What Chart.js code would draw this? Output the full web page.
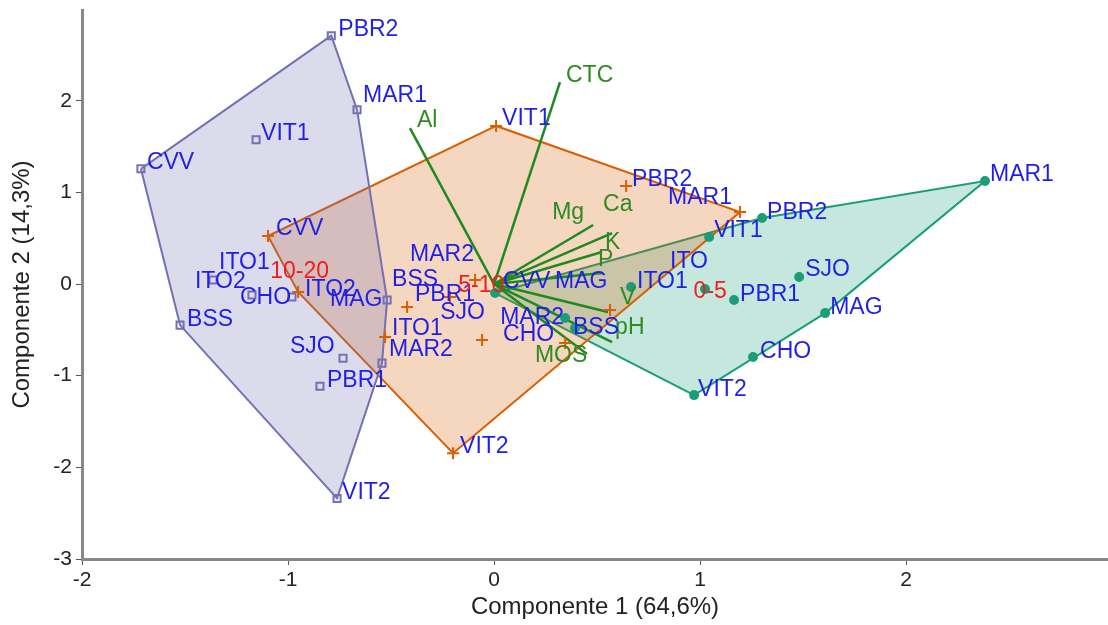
<!DOCTYPE html>
<html>
<head>
<meta charset="utf-8">
<script src="https://cdn.jsdelivr.net/npm/chart.js@4.4.1/dist/chart.umd.min.js"></script>
<style>
  html, body { margin: 0; background: #fff; }
</style>
</head>
<body>
<canvas id="pca" width="1108" height="625"></canvas>
<script>
// PCA scores, depth 10-20 cm
const sites20 = ['PBR2', 'MAR1', 'VIT1', 'CVV', 'ITO1', 'ITO2', 'CHO', 'BSS', 'MAG', 'SJO', 'PBR1', 'MAR2', 'VIT2'];
const pc1_20 = [-0.79, -0.665, -1.155, -1.714, -1.364, -1.175, -0.981, -1.524, -0.519, -0.733, -0.845, -0.544, -0.762];
const pc2_20 = [2.71, 1.902, 1.574, 1.257, 0.044, -0.12, -0.142, -0.448, -0.175, -0.809, -1.115, -0.863, -2.339];

// depth 5-10 cm
const sites10 = ['VIT1', 'PBR2', 'MAR1', 'CVV', 'ITO2', 'BSS', 'PBR1', 'ITO1', 'MAR2', 'CHO', 'SJO', 'MAG', 'VIT2'];
const pc1_10 = [0.01, 0.641, 1.194, -1.097, -0.951, -0.422, -0.214, -0.529, -0.092, -0.058, 0.345, 0.563, -0.199];
const pc2_10 = [1.725, 1.07, 0.786, 0.524, -0.087, -0.251, -0.142, -0.579, 0.044, -0.611, -0.644, -0.284, -1.845];

// depth 0-5 cm
const sites5 = ['MAR1', 'PBR2', 'VIT1', 'ITO', 'ITO1', 'SJO', 'PBR1', 'MAG', 'CHO', 'VIT2', 'CVV', 'MAR2', 'BSS'];
const pc1_5 = [2.383, 1.301, 1.044, 1.024, 0.665, 1.481, 1.165, 1.607, 1.257, 0.971, 0.005, 0.345, 0.393];
const pc2_5 = [1.124, 0.721, 0.513, -0.055, -0.033, 0.076, -0.175, -0.317, -0.797, -1.212, -0.098, -0.371, -0.48];

// loadings (soil variables)
const varNames = ['CTC', 'Al', 'Mg', 'Ca', 'K', 'P', 'V', 'pH', 'MOS'];
const varPc1 = [0.32, -0.408, 0.481, 0.573, 0.524, 0.524, 0.553, 0.573, 0.451];
const varPc2 = [2.204, 1.702, 0.644, 0.556, 0.349, 0.12, -0.305, -0.633, -0.764];

// label nudges in pixels (left edge of text, vertical centre), relative to the point
const nudge20 = [[7, -6], [6, -14], [5, -6], [6, -6], [6, -17], [-57, -13], [-52, 1], [7, -5], [-57, 0], [-53, -12], [7, -6], [7, -13], [5, -6]];
const nudge10 = [[6, -7], [6, -6], [-72, -14], [8, -7], [7, -2], [-15, -27], [-35, -2], [7, -8], [-65, -25], [21, -5], [-125, -30], [-55, -28], [7, -6]];
const nudge5 = [[5, -6], [5, -5], [5, -6], [-35, -27], [6, -5], [6, -7], [6, -5], [5, -5], [7, -5], [4, -5], [8, -11], [-65, 0], [-2, 0]];
const varNudge = [[6, -6], [7, -7], [-41, -12], [-9, -28], [3, -9], [-4, -13], [12, -14], [3, -14], [-52, 2]];

const FONT = '"Liberation Sans", Arial, sans-serif';
Chart.defaults.font.family = FONT;

const groups = [
    { name: '10-20', sites: sites20, x: pc1_20, y: pc2_20, nudge: nudge20, line: '#7570b3', area: 'rgba(117,112,179,0.25)', marker: 'rect', shift: [8, -2] },
    { name: '5-10', sites: sites10, x: pc1_10, y: pc2_10, nudge: nudge10, line: '#d95f02', area: 'rgba(217,95,2,0.25)', marker: 'cross', shift: [0, 0] },
    { name: '0-5', sites: sites5, x: pc1_5, y: pc2_5, nudge: nudge5, line: '#1b9e77', area: 'rgba(27,158,119,0.25)', marker: 'circle', shift: [0, 0] }
];

// convex hull (monotone chain)
function hull(points) {
    const p = points.slice().sort((a, b) => a.x - b.x || a.y - b.y);
    const cross = (o, a, b) => (a.x - o.x) * (b.y - o.y) - (a.y - o.y) * (b.x - o.x);
    const lower = [];
    for (const pt of p) {
        while (lower.length >= 2 && cross(lower[lower.length - 2], lower[lower.length - 1], pt) <= 0) lower.pop();
        lower.push(pt);
    }
    const upper = [];
    for (let i = p.length - 1; i >= 0; i--) {
        const pt = p[i];
        while (upper.length >= 2 && cross(upper[upper.length - 2], upper[upper.length - 1], pt) <= 0) upper.pop();
        upper.push(pt);
    }
    upper.pop();
    lower.pop();
    const h = lower.concat(upper);
    h.push(h[0]);
    return h;
}

const datasets = [];

groups.forEach(g => {
    const pts = g.x.map((v, i) => ({ x: v, y: g.y[i] }));
    datasets.push({
        data: hull(pts),
        showLine: true,
        fill: 'shape',
        backgroundColor: g.area,
        borderColor: g.line,
        borderWidth: 2,
        pointRadius: 0,
        tension: 0,
        order: 3
    });
    datasets.push({
        data: pts,
        showLine: false,
        pointStyle: g.marker,
        pointRadius: g.marker === 'circle' ? 4 : (g.marker === 'cross' ? 6 : 5),
        pointBorderWidth: 2,
        pointBorderColor: g.line,
        pointBackgroundColor: g.marker === 'circle' ? g.line : 'rgba(0,0,0,0)',
        order: 1
    });
});

varNames.forEach((v, i) => {
    datasets.push({
        data: [{ x: 0, y: 0 }, { x: varPc1[i], y: varPc2[i] }],
        showLine: true,
        borderColor: '#1f8a1f',
        borderWidth: 2.5,
        pointRadius: 0,
        order: 2
    });
});

// text labels for sites, variables and group centroids
const labelPlugin = {
    id: 'pcaLabels',
    afterDatasetsDraw(chart) {
        const { ctx } = chart;
        const sx = chart.scales.x, sy = chart.scales.y;
        ctx.save();
        ctx.font = '23px ' + FONT;
        ctx.textBaseline = 'middle';
        ctx.textAlign = 'left';

        ctx.fillStyle = '#2e8b22';
        varNames.forEach((v, i) => {
            const px = sx.getPixelForValue(varPc1[i]);
            const py = sy.getPixelForValue(varPc2[i]);
            ctx.fillText(v, px + varNudge[i][0], py + varNudge[i][1]);
        });

        ctx.fillStyle = '#1f1fe8';
        groups.forEach(g => {
            g.sites.forEach((s, i) => {
                const px = sx.getPixelForValue(g.x[i]);
                const py = sy.getPixelForValue(g.y[i]);
                ctx.fillText(s, px + g.nudge[i][0], py + g.nudge[i][1]);
            });
        });

        ctx.fillStyle = '#f01e1e';
        ctx.textAlign = 'center';
        groups.forEach(g => {
            const mx = g.x.reduce((a, b) => a + b, 0) / g.x.length;
            const my = g.y.reduce((a, b) => a + b, 0) / g.y.length;
            ctx.fillText(g.name, sx.getPixelForValue(mx) + g.shift[0], sy.getPixelForValue(my) + g.shift[1]);
        });
        ctx.restore();
    }
};

function noEdgePadding(scale) {
    scale.paddingTop = 0;
    scale.paddingBottom = 0;
    scale.paddingLeft = 0;
    scale.paddingRight = 0;
}

new Chart(document.getElementById('pca'), {
    type: 'scatter',
    data: { datasets: datasets },
    plugins: [labelPlugin],
    options: {
        responsive: false,
        animation: false,
        layout: { autoPadding: false, padding: { top: 10, right: 0, left: 0, bottom: 0 } },
        plugins: { legend: { display: false }, tooltip: { enabled: false } },
        scales: {
            x: {
                type: 'linear',
                min: -2,
                max: 2.98,
                afterFit(scale) { scale.height = 66; noEdgePadding(scale); },
                ticks: { stepSize: 1, includeBounds: false, color: '#222', padding: 3, font: { size: 21 } },
                grid: { display: true, drawOnChartArea: false, drawTicks: true, tickLength: 6, color: '#555', lineWidth: 1 },
                border: { color: '#888', width: 3 },
                title: { display: true, text: 'Componente 1 (64,6%)', color: '#222', font: { size: 24 }, padding: { top: 0, bottom: 3 } }
            },
            y: {
                type: 'linear',
                min: -3,
                max: 2.99,
                afterFit(scale) { scale.width = 82; noEdgePadding(scale); },
                ticks: { stepSize: 1, includeBounds: false, color: '#222', padding: 4, font: { size: 21 } },
                grid: { display: true, drawOnChartArea: false, drawTicks: true, tickLength: 6, color: '#555', lineWidth: 1 },
                border: { color: '#888', width: 3 },
                title: { display: true, text: 'Componente 2 (14,3%)', color: '#222', font: { size: 24 }, padding: { top: 8, bottom: 0 } }
            }
        }
    }
});
</script>
</body>
</html>
